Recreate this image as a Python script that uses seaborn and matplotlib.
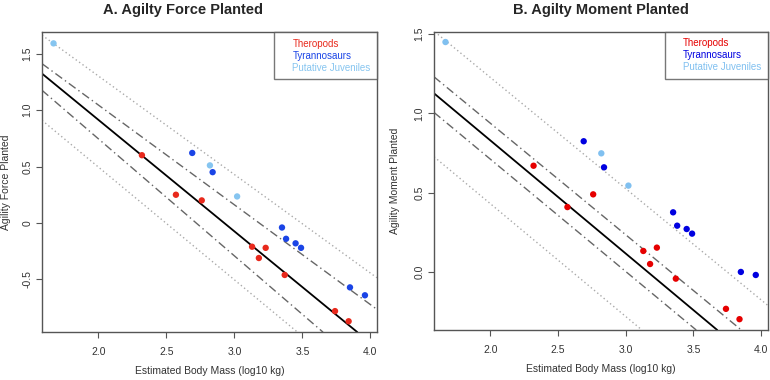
import numpy as np
import pandas as pd
import seaborn as sns
import matplotlib.pyplot as plt

# log10 body mass for each group (same animals in both panels)
theropod_mass = [2.32, 2.57, 2.76, 3.13, 3.18, 3.23, 3.37, 3.74, 3.84]
tyranno_mass = [2.69, 2.84, 3.35, 3.38, 3.45, 3.49, 3.85, 3.96]
juvenile_mass = [1.67, 2.82, 3.02]

# panel A: agility force planted
theropod_force = [0.60, 0.25, 0.20, -0.21, -0.31, -0.22, -0.46, -0.78, -0.87]
tyranno_force = [0.62, 0.45, -0.04, -0.14, -0.18, -0.22, -0.57, -0.64]
juvenile_force = [1.59, 0.51, 0.235]

# panel B: agility moment planted
theropod_moment = [0.67, 0.41, 0.49, 0.134, 0.052, 0.155, -0.04, -0.23, -0.295]
tyranno_moment = [0.824, 0.66, 0.377, 0.293, 0.272, 0.243, 0.002, -0.017]
juvenile_moment = [1.448, 0.748, 0.545]

groups = ['Theropods', 'Tyrannosaurs', 'Putative Juveniles']

# fitted line, confidence and prediction bands: (intercept, slope)
force_lines = {'fit': (2.887, -0.987),
               'ci_hi': (2.810, -0.883), 'ci_lo': (2.817, -1.036),
               'pi_hi': (3.045, -0.872), 'pi_lo': (2.491, -0.998)}
moment_lines = {'fit': (2.254, -0.712),
                'ci_hi': (2.342, -0.702), 'ci_lo': (2.126, -0.707),
                'pi_hi': (2.626, -0.700), 'pi_lo': (1.852, -0.710)}

force_yticks = [-0.5, 0, 0.5, 1.0, 1.5]
force_yticklabels = ['-0.5', '0', '0.5', '1.0', '1.5']
moment_yticks = [0.0, 0.5, 1.0, 1.5]
moment_yticklabels = ['0.0', '0.5', '1.0', '1.5']
xticks = [2.0, 2.5, 3.0, 3.5, 4.0]


def make_df(thero, tyr, juv):
    mass = theropod_mass + tyranno_mass + juvenile_mass
    val = thero + tyr + juv
    grp = ([groups[0]] * len(thero) + [groups[1]] * len(tyr) + [groups[2]] * len(juv))
    return pd.DataFrame({'mass': mass, 'value': val, 'group': grp})


sns.set_theme(style='white')
plt.rcParams['font.family'] = ['Liberation Sans', 'DejaVu Sans']

fig = plt.figure(figsize=(7.7, 3.8), dpi=100)
axA = fig.add_axes([0.0545, 0.126, 0.435, 0.789])
axB = fig.add_axes([0.5636, 0.1316, 0.4334, 0.785])

panels = [
    (axA, make_df(theropod_force, tyranno_force, juvenile_force), force_lines,
     ['#e8291c', '#1a44e6', '#86c5f0'], 'A. Agilty Force Planted', 'Agility Force Planted',
     (-0.966, 1.688), force_yticks, force_yticklabels, 0.42, 8),
    (axB, make_df(theropod_moment, tyranno_moment, juvenile_moment), moment_lines,
     ['#e60000', '#0000e0', '#80c0f0'], 'B. Agilty Moment Planted', 'Agility Moment Planted',
     (-0.363, 1.513), moment_yticks, moment_yticklabels, 0.5, 10),
]

for ax, df, lines, colors, title, ylabel, ylim, yt, ytl, tx, ypad in panels:
    ax.set_xlim(1.585, 4.048)
    ax.set_ylim(*ylim)

    styles = {'fit': dict(color='black', lw=1.3, ls='-'),
              'ci_hi': dict(color='#666666', lw=1.0, ls=(0, (6, 2.5, 1, 2.5))),
              'ci_lo': dict(color='#666666', lw=1.0, ls=(0, (6, 2.5, 1, 2.5))),
              'pi_hi': dict(color='#aaaaaa', lw=1.0, ls=(0, (1, 2))),
              'pi_lo': dict(color='#aaaaaa', lw=1.0, ls=(0, (1, 2)))}
    for key, (a, b) in lines.items():
        ax.axline((0, a), slope=b, zorder=1, **styles[key])

    sns.scatterplot(data=df, x='mass', y='value', hue='group', hue_order=groups,
                    palette=colors, s=21, linewidth=0, ax=ax, zorder=3)

    leg = ax.legend(loc='upper right', borderaxespad=0, fancybox=False,
                    frameon=True, fontsize=7, handlelength=0.4, handletextpad=0.8,
                    labelspacing=0.22, borderpad=0.65)
    leg.get_frame().set_edgecolor('#555555')
    leg.get_frame().set_linewidth(1.0)
    for h in leg.legend_handles:
        h.set_visible(False)
    for t, c in zip(leg.get_texts(), colors):
        t.set_color(c)

    ax.set_xticks(xticks)
    ax.set_xticklabels([f'{v:.1f}' for v in xticks])
    ax.set_yticks(yt)
    ax.set_yticklabels(ytl)
    plt.setp(ax.get_yticklabels(), rotation=90, va='center')
    ax.tick_params(axis='both', length=4, width=0.8, color='#555555', direction='out',
                   labelsize=7.5, labelcolor='#333333', pad=3, bottom=True, left=True)
    ax.tick_params(axis='x', pad=7)

    for sp in ax.spines.values():
        sp.set_color('#555555')
        sp.set_linewidth(1.0)

    ax.set_title(title, fontsize=10.5, fontweight='bold', x=tx, pad=13)
    ax.set_xlabel('Estimated Body Mass (log10 kg)', fontsize=7.5, color='#333333', labelpad=6)
    ax.set_ylabel(ylabel, fontsize=7.5, color='#333333', labelpad=ypad)

fig.savefig('out.png', dpi=100)
